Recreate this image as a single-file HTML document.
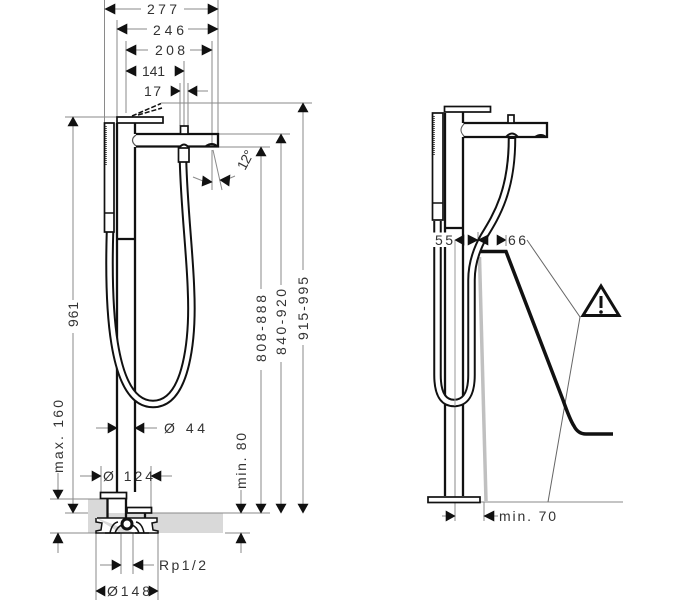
<!DOCTYPE html>
<html><head><meta charset="utf-8"><style>
html,body{margin:0;padding:0;background:#fff}
svg{display:block}
text{font-family:"Liberation Sans",sans-serif;font-size:14px;fill:#333}
.d{stroke:#8a8a8a;stroke-width:1;fill:none}
.k{stroke:#111;stroke-width:2.300;fill:none}
.t{stroke:#111;stroke-width:1.700;fill:#fff}
.a{fill:#111;stroke:#111;stroke-width:.6}
</style></head><body>
<svg width="673" height="600" viewBox="0 0 673 600" xmlns="http://www.w3.org/2000/svg">
<!-- floor -->
<polygon points="88,499 108,499 108,513 223,513 223,533 88,533" fill="#d9d9d9"/>
<!-- LEFT dimension lines -->
<g class="d">
<path d="M104.500,0V123M218,0V134M117,20V117M126,41V113M212,41V147M184,61V126M180,83V126M188,83V126"/>
<path d="M115,9H141M184,9H208M127,29H147M188,29H208M136,50H148M190,50H204M180,91H172M188,91H208"/>
<path d="M65,117H117M161,103H312M219,134H290M219,147H270"/>
<path d="M73,126V300M73,333V504M58,473V490M58,543V553M261,156V289M261,370V504M281,143V285M281,362V504M303,112V270M303,345V504M241,490V504M241,543V553"/>
<path d="M50,499H100M65,513H88M150,513H270M50,533H96M225,533H250"/>
<path d="M96,428H108M144,428H157M80,476H92M161,476H172M101,466V492M151,466V507"/>
<path d="M100,565H112M143,565H154M121,533V574M133,533V574M96,533V600M158,533V600"/>
<path d="M212,150V190M213,150L222,190M193,177L203,181M228,179L235,176"/>
</g>
<!-- LEFT arrows -->
<g class="a">
<polygon points="105,9 115,4 115,14"/><polygon points="218,9 208,4 208,14"/>
<polygon points="117,29 127,24 127,34"/><polygon points="218,29 208,24 208,34"/>
<polygon points="126,50 136,45 136,55"/><polygon points="212,50 202,45 202,55"/>
<polygon points="126,71 136,66 136,76"/><polygon points="184,71 175,66 175,76"/>
<polygon points="180,91 171,86 171,96"/><polygon points="188,91 197,86 197,96"/>
<polygon points="73,117 68,126 78,126"/><polygon points="73,513 68,504 78,504"/>
<polygon points="58,499 53,490 63,490"/><polygon points="58,533 53,543 63,543"/>
<polygon points="261,147 256,156 266,156"/><polygon points="261,513 256,504 266,504"/>
<polygon points="281,134 276,143 286,143"/><polygon points="281,513 276,504 286,504"/>
<polygon points="303,103 298,112 308,112"/><polygon points="303,513 298,504 308,504"/>
<polygon points="241,513 236,504 246,504"/><polygon points="241,533 236,543 246,543"/>
<polygon points="117,428 108,423 108,433"/><polygon points="135,428 144,423 144,433"/>
<polygon points="101,476 92,471 92,481"/><polygon points="151,476 161,471 161,481"/>
<polygon points="121,565 112,560 112,570"/><polygon points="133,565 143,560 143,570"/>
<polygon points="96,591 105,586 105,596"/><polygon points="158,591 149,586 149,596"/>
<polygon points="212,182 203,176 202,186"/><polygon points="220,180 230,175 229,186"/>
</g>
<!-- LEFT text -->
<text x="147" y="14" textLength="30" lengthAdjust="spacing">277</text>
<text x="153" y="35" textLength="31" lengthAdjust="spacing">246</text>
<text x="155" y="55" textLength="30" lengthAdjust="spacing">208</text>
<text x="142" y="76" textLength="23" lengthAdjust="spacing">141</text>
<text x="144" y="96" textLength="17" lengthAdjust="spacing">17</text>
<text x="164" y="433" textLength="41" lengthAdjust="spacing">Ø 44</text>
<text x="103" y="481" textLength="50" lengthAdjust="spacing">Ø 124</text>
<text x="159" y="570" textLength="47" lengthAdjust="spacing">Rp1/2</text>
<text x="107" y="596" textLength="43" lengthAdjust="spacing">Ø148</text>
<text transform="translate(245,171) rotate(-62)" x="0" y="0" textLength="20" lengthAdjust="spacing">12°</text>
<text transform="translate(63,473) rotate(-90)" textLength="73" lengthAdjust="spacing">max. 160</text>
<text transform="translate(78,327) rotate(-90)" textLength="25" lengthAdjust="spacing">961</text>
<text transform="translate(266,362) rotate(-90)" textLength="67" lengthAdjust="spacing">808-888</text>
<text transform="translate(286,355) rotate(-90)" textLength="66" lengthAdjust="spacing">840-920</text>
<text transform="translate(308,340) rotate(-90)" textLength="63" lengthAdjust="spacing">915-995</text>
<text transform="translate(246,489) rotate(-90)" textLength="56" lengthAdjust="spacing">min. 80</text>
<!-- LEFT faucet -->
<path class="k" d="M117,123V239M135,123V134M135,147V492M117,239H135M117,239V492"/>
<path d="M110,232C108,300 110,404 153,404C188,404 193,335 191,290C190,255 184,205 183,160" fill="none" stroke="#111" stroke-width="8.500"/>
<path d="M110,232C108,300 110,404 153,404C188,404 193,335 191,290C190,255 184,205 183,160" fill="none" stroke="#fff" stroke-width="4.500"/>
<rect class="t" x="117" y="117" width="46" height="6"/>
<path d="M132,116L161,103.500" stroke="#111" stroke-width="1.500" stroke-dasharray="5,2" fill="none"/>
<path d="M138,115L162,108" stroke="#111" stroke-width="1.500" stroke-dasharray="5,2" fill="none"/>
<path class="k" d="M136,134H218V146.500H136"/>
<path d="M136,135Q129,140 136,146" stroke="#555" stroke-width="1.200" fill="none"/>
<rect class="t" x="180.500" y="126" width="7.500" height="8"/>
<path d="M206,146Q212,142 217,146" stroke="#111" stroke-width="2" fill="none"/>
<path d="M179,148Q184,141 189,148" stroke="#111" stroke-width="2" fill="#fff"/>
<rect class="t" x="178.500" y="148" width="10.500" height="14"/>
<rect class="t" x="104.500" y="123" width="9.500" height="109"/>
<path d="M104.500,213H114" stroke="#111" stroke-width="1.500"/>
<path d="M106,126V166" stroke="#333" stroke-width="1.500" stroke-dasharray="1,1"/>
<!-- LEFT base -->
<rect class="t" x="100.500" y="492.500" width="26" height="6"/>
<path class="k" d="M107.500,499V518M126,499V518M145,513V518"/>
<rect class="t" x="127" y="507.500" width="24.500" height="5.500"/>
<path d="M97,518H157V522L152,523L153,530L158,531V533H135M96,518V522L102,523L101,530L96,531V533H120" fill="#fff" stroke="#111" stroke-width="1.500"/>
<path d="M110,533Q112,523 118,522M115,533Q117,527 122,525M144,533Q142,523 136,522M139,533Q137,527 132,525" stroke="#111" stroke-width="1.500" fill="none"/>
<circle cx="127" cy="524" r="5" fill="#fff" stroke="#111" stroke-width="3"/>
<path d="M105,533H149" stroke="#111" stroke-width="1.500"/>
<!-- RIGHT -->
<path d="M479.500,257L486,501" stroke="#c0c0c0" stroke-width="3.500" fill="none"/>
<path d="M480,502H623M442,516H446M494,516H498" class="d"/>
<path class="d" d="M484,502V521M455,240V521M478,232V250"/>
<path d="M527,240L580,317L548,502" stroke="#666" stroke-width="1" fill="none"/>
<path d="M480,251.500H506L563,400Q570,420 574,426Q578,434 586,434H613" stroke="#111" stroke-width="3.500" fill="none"/>
<path class="k" d="M445,113V228H463M463,112V123M463,137V496M445,228V496"/>
<path d="M437.500,221V375Q437.500,403 454,403Q471.500,403 471.500,375V280Q471.500,258 484,236C497,215 512,190 512,138" fill="none" stroke="#111" stroke-width="8.500"/>
<path d="M437.500,218V375Q437.500,403 454,403Q471.500,403 471.500,375V280Q471.500,258 484,236C497,215 512,190 512,139" fill="none" stroke="#fff" stroke-width="4.500"/>
<path d="M455,240V406" stroke="#999" stroke-width="1"/>
<rect x="432" y="232.500" width="21" height="14.500" fill="#fff"/>
<rect class="t" x="444.500" y="106.500" width="46" height="5.500"/>
<path class="k" d="M463.500,123H547V137H463.500"/>
<path d="M464,124Q458,130 464,136" stroke="#555" stroke-width="1" fill="none"/>
<rect class="t" x="508" y="115" width="6" height="8"/>
<path d="M506,137Q512,130 518,137" stroke="#111" stroke-width="2" fill="none"/>
<path d="M535,137Q541,133 546,137" stroke="#111" stroke-width="2" fill="none"/>
<rect class="t" x="432.500" y="113" width="10.500" height="107"/>
<path d="M432.500,203H443" stroke="#111" stroke-width="1.500"/>
<path d="M434,116V156" stroke="#333" stroke-width="1.500" stroke-dasharray="1,1"/>
<rect class="t" x="428" y="497" width="52" height="5.500"/>
<g class="a">
<polygon points="455,240 464,235 464,245"/><polygon points="478,240 468,235 468,245"/>
<polygon points="478,240 488,235 488,245"/><polygon points="506,240 497,235 497,245"/>
<polygon points="455,516 446,511 446,521"/><polygon points="484,516 494,511 494,521"/>
</g>
<path d="M506,235V246" class="d"/>
<text x="435" y="245" textLength="18" lengthAdjust="spacing">55</text>
<text x="508" y="245" textLength="18" lengthAdjust="spacing">66</text>
<text x="499" y="521" textLength="57" lengthAdjust="spacing">min. 70</text>
<polygon points="601,286 583,315.500 619,315.500" fill="#fff" stroke="#111" stroke-width="3"/>
<path d="M601,296V308" stroke="#111" stroke-width="3"/>
<circle cx="601" cy="312" r="1.800" fill="#111"/>
</svg>
</body></html>
